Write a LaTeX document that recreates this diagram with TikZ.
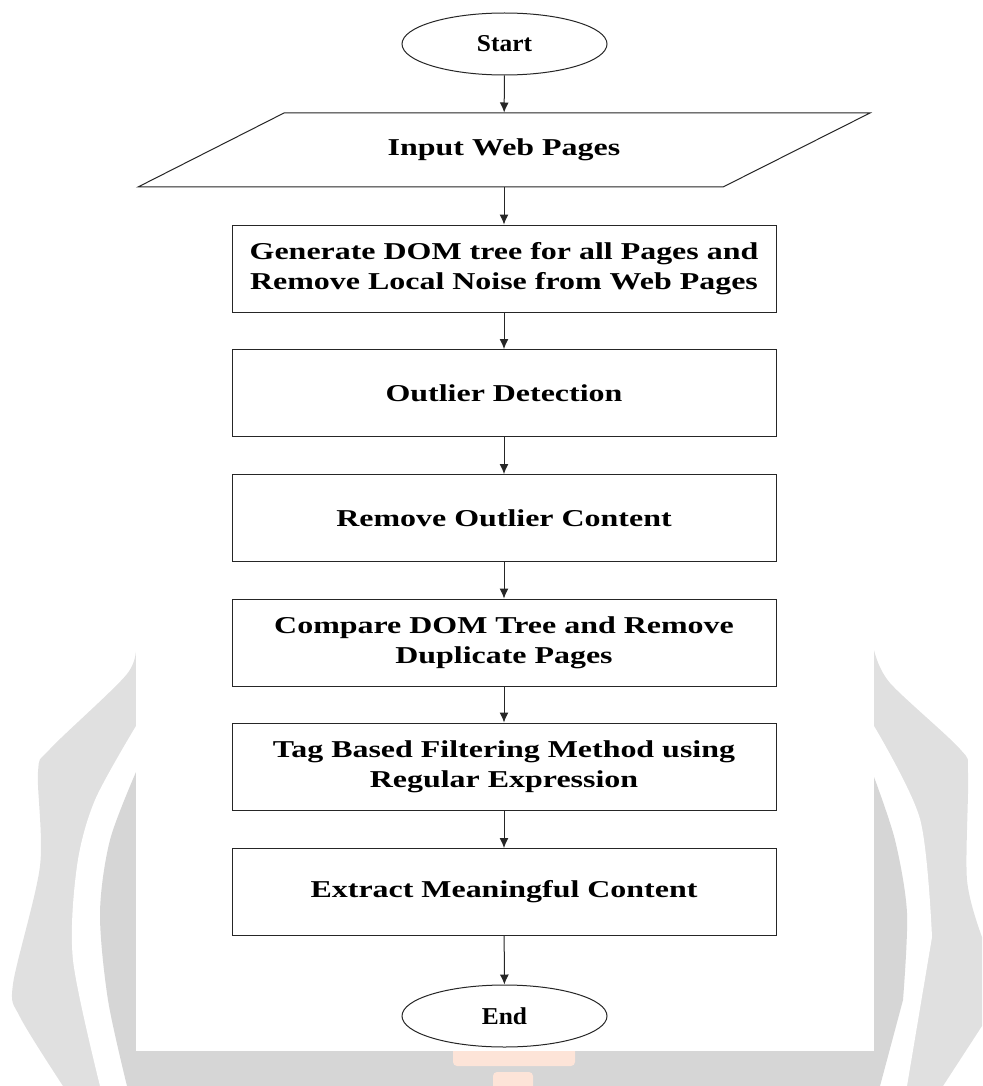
\documentclass[tikz,border=0pt]{standalone}
\usepackage{fontspec}
\setmainfont{Liberation Serif}
\newfontfamily\stepfont[FakeStretch=1.32]{Liberation Serif}
\newfontfamily\termfont[FakeStretch=1.05]{Liberation Serif}
\usetikzlibrary{shapes.geometric,arrows.meta}
\definecolor{wmlight}{HTML}{E0E0E0}
\definecolor{wmdark}{HTML}{D6D6D6}
\definecolor{wmorange}{HTML}{FDE4D8}
\definecolor{edge}{HTML}{262626}

\begin{document}
\begin{tikzpicture}[x=1pt,y=-1pt]
\tikzstyle{every node}=[draw=edge, line width=1pt, align=center, font=\stepfont\fontsize{24.2}{30}\selectfont\bfseries]
\tikzstyle{stepbox}=[rectangle, minimum width=544, minimum height=87]
\tikzstyle{termnode}=[ellipse, minimum width=205, minimum height=62, font=\termfont\fontsize{24.2}{30}\selectfont\bfseries]
\tikzstyle{flow}=[draw=edge, line width=1pt, -{Latex[length=10pt,width=9pt]}]
\useasboundingbox (0,0) rectangle (982,1086);
\fill[wmlight] plot[smooth] coordinates {(136,641) (127,674) (50,749) (38,772) (40,866) (13,984) (20,1017) (63,1086)}
  -- (943,1086) -- (982,1026) -- plot[smooth] coordinates {(982,937) (967,880) (968,773) (960,749) (890,683) (874,650)} -- cycle;
\fill[white] plot[smooth] coordinates {(136,726) (95,800) (77,866) (73,960) (100,1086)}
  -- (907,1086) -- plot[smooth] coordinates {(932,937) (920,819) (874,726)} -- cycle;
\fill[wmdark] plot[smooth] coordinates {(136,772) (110,840) (100,913) (108,1000) (127,1086)}
  -- (880,1086) -- plot[smooth] coordinates {(903,1000) (907,913) (895,840) (874,777)} -- cycle;
\fill[wmorange, rounded corners=4pt] (453,1040) rectangle (575,1066);
\fill[wmorange, rounded corners=4pt] (493,1072) rectangle (533,1090);
\fill[white] (136,0) rectangle (874,1051);
\draw (504.5,44) node (s0) [termnode] {Start};
\draw (504,150) node (s1) [draw=none, minimum height=74, inner sep=0pt] {Input Web Pages};
\draw[edge, line width=1pt] (284,113) -- (870,113) -- (723,187) -- (138,187) -- cycle;
\draw (504,268.5) node (s2) [stepbox] {Generate DOM tree for all Pages and\\Remove Local Noise from Web Pages};
\draw (504,393) node (s3) [stepbox] {Outlier Detection};
\draw (504,518) node (s4) [stepbox] {Remove Outlier Content};
\draw (504,642.5) node (s5) [stepbox] {Compare DOM Tree and Remove\\Duplicate Pages};
\draw (504,766.5) node (s6) [stepbox] {Tag Based Filtering Method using\\Regular Expression};
\draw (504,892) node (s7) [stepbox] {Extract Meaningful Content};
\draw (504.5,1016) node (s8) [termnode] {End};
\draw[flow] (s0) -- (s1);
\draw[flow] (s1) -- (s2);
\draw[flow] (s2) -- (s3);
\draw[flow] (s3) -- (s4);
\draw[flow] (s4) -- (s5);
\draw[flow] (s5) -- (s6);
\draw[flow] (s6) -- (s7);
\draw[flow] (s7) -- (s8);
\end{tikzpicture}
\end{document}
